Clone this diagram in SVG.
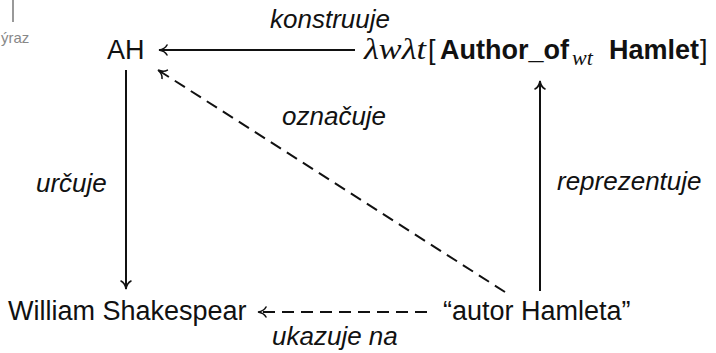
<svg xmlns="http://www.w3.org/2000/svg" width="716" height="353" viewBox="0 0 716 353">
<style>
.n{font-family:"Liberation Sans",Arial,sans-serif;font-size:27px;fill:#111}
.l{font-family:"Liberation Sans",Arial,sans-serif;font-size:26px;font-style:italic;fill:#111}
.m{font-family:"Liberation Serif","Times New Roman",serif;font-style:italic;fill:#111}
.b{font-weight:bold}
.e{fill:none;stroke:#111;stroke-width:2}
.d{stroke-dasharray:12 7}
</style>
<defs>
<marker id="ah" viewBox="-10 -6 12 12" markerWidth="12" markerHeight="12" refX="0" refY="0" orient="auto" markerUnits="userSpaceOnUse">
<path d="M-8,-5 C-6.5,-2 -3,-0.5 0,0 C-3,0.5 -6.5,2 -8,5" fill="none" stroke="#111" stroke-width="1.6" stroke-linecap="round"/>
</marker>
</defs>
<g id="header">
<line x1="13" y1="0" x2="13" y2="22" stroke="#999" stroke-width="2"/>
<text x="1" y="43" font-family="Liberation Sans,Arial,sans-serif" font-size="15" fill="#888">ýraz</text>
</g>
<g id="connectors">
<line class="e" x1="355" y1="50" x2="159" y2="50" marker-end="url(#ah)"/>
<line class="e" x1="126" y1="70" x2="126" y2="289" marker-end="url(#ah)"/>
<line class="e" x1="540" y1="291" x2="540" y2="81" marker-end="url(#ah)"/>
<line class="e d" x1="505" y1="292" x2="158" y2="70" marker-end="url(#ah)"/>
<line class="e d" x1="427" y1="312" x2="258" y2="312" marker-end="url(#ah)"/>
</g>
<g id="labels">
<text class="l" x="270" y="28">konstruuje</text>
<text class="l" x="36" y="192">určuje</text>
<text class="l" x="282" y="125">označuje</text>
<text class="l" x="557" y="190">reprezentuje</text>
<text class="l" x="272" y="345">ukazuje na</text>
</g>
<g id="node-AH">
<text class="n" x="107" y="59">AH</text>
</g>
<g id="node-lambda">
<text class="m" x="364" y="59" font-size="30" textLength="62" lengthAdjust="spacingAndGlyphs">λwλt</text>
<text class="n" y="59"><tspan x="428">[</tspan><tspan class="b" x="440">Author_of</tspan></text>
<text class="m" x="572" y="65" font-size="22">wt</text>
<text class="n b" x="609" y="59">Hamlet</text>
<text class="n" x="700" y="59">]</text>
</g>
<g id="node-william">
<text class="n" x="8" y="320">William Shakespear</text>
</g>
<g id="node-autor">
<text class="n" x="443" y="320">“autor Hamleta”</text>
</g>
</svg>
